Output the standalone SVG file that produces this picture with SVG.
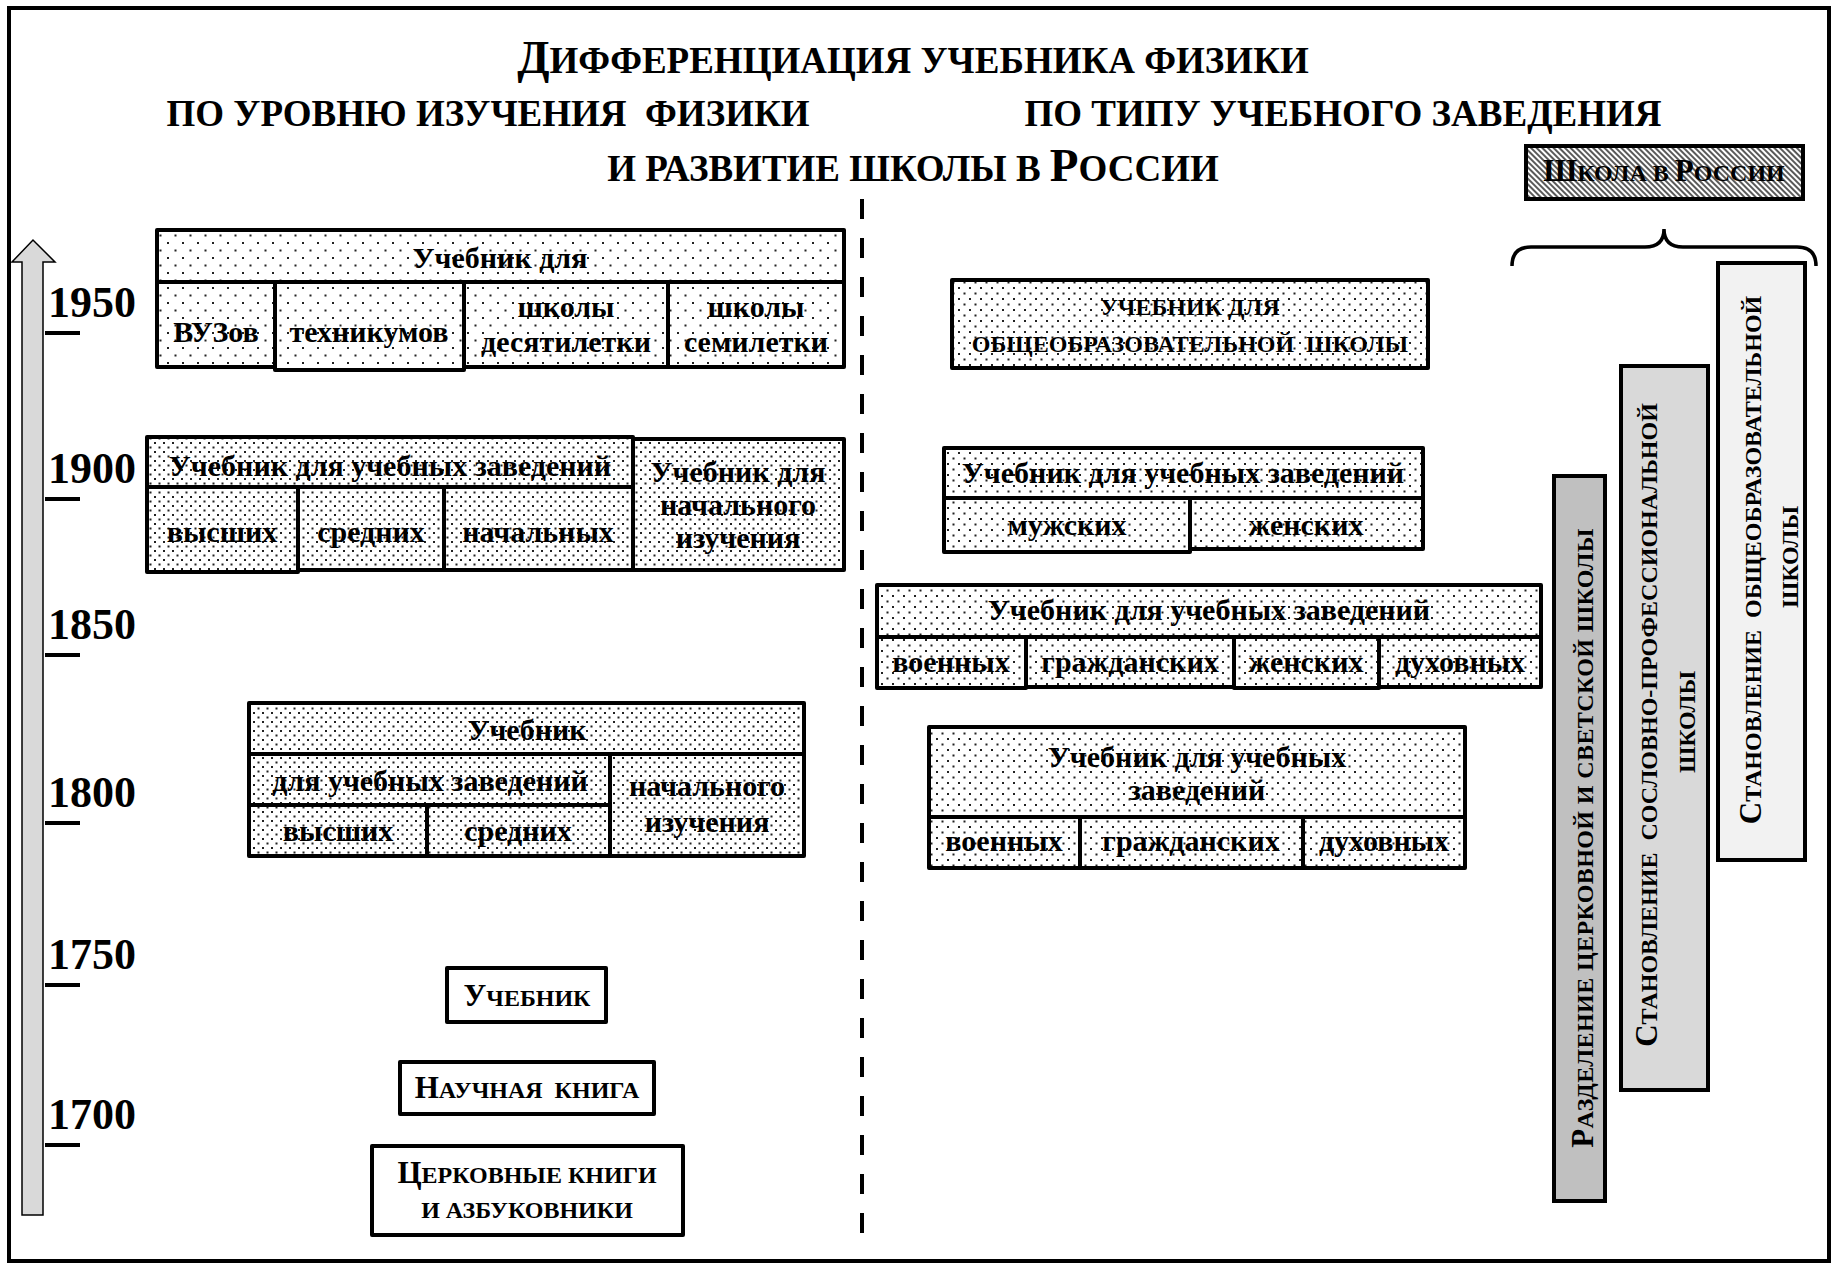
<svg xmlns="http://www.w3.org/2000/svg" width="1832" height="1264" viewBox="0 0 1832 1264">
<defs>
<pattern id="dotsA" width="15" height="15" patternUnits="userSpaceOnUse">
<rect width="15" height="15" fill="#fff"/>
<rect x="2" y="2" width="2" height="2" fill="#222"/>
<rect x="9.5" y="9.5" width="2" height="2" fill="#222"/>
</pattern>
<pattern id="dotsB" width="9" height="9" patternUnits="userSpaceOnUse">
<rect width="9" height="9" fill="#fff"/>
<rect x="1" y="1" width="2" height="2" fill="#222"/>
<rect x="5.5" y="5.5" width="2" height="2" fill="#222"/>
</pattern>
<pattern id="dotsC" width="11" height="11" patternUnits="userSpaceOnUse">
<rect width="11" height="11" fill="#fff"/>
<rect x="1" y="1" width="2" height="2" fill="#222"/>
<rect x="6.5" y="6.5" width="2" height="2" fill="#222"/>
</pattern>
<pattern id="hatch" width="4" height="4" patternUnits="userSpaceOnUse" patternTransform="rotate(45)">
<rect width="4" height="4" fill="#fff"/>
<line x1="0" y1="2" x2="4" y2="2" stroke="#000" stroke-width="1.3"/>
</pattern>
<style>
.frame{fill:#fff;stroke:#000;stroke-width:4}
.b{fill:#fff;stroke:#000;stroke-width:4;stroke-linejoin:round}
.pa{fill:url(#dotsA);stroke:#000;stroke-width:4;stroke-linejoin:round}
.pb{fill:url(#dotsB);stroke:#000;stroke-width:4;stroke-linejoin:round}
.pc{fill:url(#dotsC);stroke:#000;stroke-width:4;stroke-linejoin:round}
.t{font-family:"Liberation Serif","Times New Roman",serif;font-weight:bold;font-size:30px;text-anchor:middle;fill:#000}
.sc{font-size:24px}
.big{font-size:31px}
.h{font-size:37px}
.hb{font-size:47px}
.yr{font-family:"Liberation Serif","Times New Roman",serif;font-weight:bold;font-size:44px;fill:#000}
.tick{stroke:#000;stroke-width:4}
</style>
</defs>

<rect class="frame" x="9" y="8" width="1820" height="1253"/>

<g id="title">
<text class="t h" x="913" y="73"><tspan class="hb">Д</tspan>ИФФЕРЕНЦИАЦИЯ УЧЕБНИКА ФИЗИКИ</text>
<text class="t" style="font-size:37px" x="488" y="126" xml:space="preserve">ПО УРОВНЮ ИЗУЧЕНИЯ  ФИЗИКИ</text>
<text class="t" style="font-size:37px" x="1343" y="126">ПО ТИПУ УЧЕБНОГО ЗАВЕДЕНИЯ</text>
<text class="t h" x="913" y="181">И РАЗВИТИЕ ШКОЛЫ В <tspan class="hb">Р</tspan>ОССИИ</text>
</g>

<g id="timeline">
<polygon points="22,1215 22,262 12,262 33,240 55,262 43,262 43,1215" fill="#d9d9d9" stroke="#000" stroke-width="1.5"/>
<text class="yr" x="48" y="317">1950</text>
<line class="tick" x1="45" y1="333" x2="80" y2="333"/>
<text class="yr" x="48" y="483">1900</text>
<line class="tick" x1="45" y1="499" x2="80" y2="499"/>
<text class="yr" x="48" y="639">1850</text>
<line class="tick" x1="45" y1="655" x2="80" y2="655"/>
<text class="yr" x="48" y="807">1800</text>
<line class="tick" x1="45" y1="823" x2="80" y2="823"/>
<text class="yr" x="48" y="969">1750</text>
<line class="tick" x1="45" y1="985" x2="80" y2="985"/>
<text class="yr" x="48" y="1129">1700</text>
<line class="tick" x1="45" y1="1145" x2="80" y2="1145"/>
</g>

<g id="connectors">
<line x1="862" y1="199" x2="862" y2="1241" stroke="#000" stroke-width="4" stroke-dasharray="20 19"/>
<path d="M1512,266 Q1512,247 1531,247 L1645,247 Q1664,247 1664,229 Q1664,247 1683,247 L1797,247 Q1816,247 1816,266" fill="none" stroke="#000" stroke-width="3.5"/>
</g>

<g id="node-1950-left">
<rect class="pa" x="157" y="230" width="687" height="52"/>
<rect class="pa" x="157" y="282" width="118" height="85"/>
<rect class="pa" x="275" y="282" width="189" height="88"/>
<rect class="pa" x="464" y="282" width="204" height="85"/>
<rect class="pa" x="668" y="282" width="176" height="85"/>
<text class="t" x="500" y="268">Учебник для</text>
<text class="t" x="216" y="342">ВУЗов</text>
<text class="t" x="369" y="342">техникумов</text>
<text class="t" x="566" y="317">школы</text>
<text class="t" x="566" y="352">десятилетки</text>
<text class="t" x="756" y="317">школы</text>
<text class="t" x="756" y="352">семилетки</text>
</g>

<g id="node-1900-left">
<rect class="pb" x="147" y="437" width="486" height="50"/>
<rect class="pb" x="147" y="487" width="151" height="85"/>
<rect class="pb" x="298" y="487" width="146" height="83"/>
<rect class="pb" x="444" y="487" width="189" height="83"/>
<rect class="pb" x="633" y="439" width="211" height="131"/>
<text class="t" x="390" y="476">Учебник для учебных заведений</text>
<text class="t" x="222" y="542">высших</text>
<text class="t" x="371" y="542">средних</text>
<text class="t" x="538" y="542">начальных</text>
<text class="t" x="738" y="482">Учебник для</text>
<text class="t" x="738" y="515">начального</text>
<text class="t" x="738" y="548">изучения</text>
</g>

<g id="node-1800-left">
<rect class="pb" x="249" y="703" width="555" height="51"/>
<rect class="pb" x="249" y="754" width="361" height="51"/>
<rect class="pb" x="249" y="805" width="178" height="51"/>
<rect class="pb" x="427" y="805" width="183" height="51"/>
<rect class="pb" x="610" y="754" width="194" height="102"/>
<text class="t" x="527" y="740">Учебник</text>
<text class="t" x="430" y="791">для учебных заведений</text>
<text class="t" x="338" y="841">высших</text>
<text class="t" x="518" y="841">средних</text>
<text class="t" x="707" y="796">начального</text>
<text class="t" x="707" y="832">изучения</text>
</g>

<g id="node-uchebnik">
<rect class="b" x="447" y="968" width="159" height="54"/>
<text class="t sc" x="527" y="1006"><tspan class="big">У</tspan>ЧЕБНИК</text>
</g>

<g id="node-nauchnaya">
<rect class="b" x="400" y="1062" width="254" height="52"/>
<text class="t sc" x="527" y="1098" xml:space="preserve"><tspan class="big">Н</tspan>АУЧНАЯ  КНИГА</text>
</g>

<g id="node-cerkovnye">
<rect class="b" x="372" y="1146" width="311" height="89"/>
<text class="t sc" x="527" y="1183"><tspan class="big">Ц</tspan>ЕРКОВНЫЕ КНИГИ</text>
<text class="t sc" x="527" y="1218">И АЗБУКОВНИКИ</text>
</g>

<g id="node-obshche">
<rect class="pc" x="952" y="280" width="476" height="88"/>
<text class="t sc" x="1190" y="315">УЧЕБНИК ДЛЯ</text>
<text class="t sc" x="1190" y="352" xml:space="preserve">ОБЩЕОБРАЗОВАТЕЛЬНОЙ  ШКОЛЫ</text>
</g>

<g id="node-1900-right">
<rect class="pc" x="944" y="448" width="479" height="50"/>
<rect class="pc" x="944" y="498" width="246" height="54"/>
<rect class="pc" x="1190" y="498" width="233" height="51"/>
<text class="t" x="1183" y="483">Учебник для учебных заведений</text>
<text class="t" x="1067" y="535">мужских</text>
<text class="t" x="1306" y="535">женских</text>
</g>

<g id="node-1850-right">
<rect class="pc" x="877" y="585" width="664" height="52"/>
<rect class="pc" x="877" y="637" width="149" height="51"/>
<rect class="pc" x="1026" y="637" width="208" height="50"/>
<rect class="pc" x="1234" y="637" width="145" height="51"/>
<rect class="pc" x="1379" y="637" width="162" height="50"/>
<text class="t" x="1209" y="620">Учебник для учебных заведений</text>
<text class="t" x="951" y="672">военных</text>
<text class="t" x="1130" y="672">гражданских</text>
<text class="t" x="1306" y="672">женских</text>
<text class="t" x="1460" y="672">духовных</text>
</g>

<g id="node-1800-right">
<rect class="pc" x="929" y="727" width="536" height="90"/>
<rect class="pc" x="929" y="817" width="151" height="51"/>
<rect class="pc" x="1080" y="817" width="223" height="51"/>
<rect class="pc" x="1303" y="817" width="162" height="51"/>
<text class="t" x="1197" y="767">Учебник для учебных</text>
<text class="t" x="1197" y="800">заведений</text>
<text class="t" x="1004" y="851">военных</text>
<text class="t" x="1191" y="851">гражданских</text>
<text class="t" x="1384" y="851">духовных</text>
</g>

<g id="node-shkola">
<rect x="1526" y="146" width="277" height="53" fill="url(#hatch)" stroke="#000" stroke-width="4"/>
<text class="t sc" x="1664" y="181"><tspan class="big">Ш</tspan>КОЛА В <tspan class="big">Р</tspan>ОССИИ</text>
</g>

<g id="node-bar1">
<rect x="1554" y="476" width="51" height="725" fill="#c0c0c0" stroke="#000" stroke-width="4"/>
<text class="t sc" style="letter-spacing:0.4px" transform="translate(1593,838) rotate(-90)"><tspan class="big">Р</tspan>АЗДЕЛЕНИЕ ЦЕРКОВНОЙ И СВЕТСКОЙ ШКОЛЫ</text>
</g>

<g id="node-bar2">
<rect x="1621" y="366" width="87" height="724" fill="#d9d9d9" stroke="#000" stroke-width="4"/>
<text class="t sc" transform="translate(1657,725) rotate(-90)" xml:space="preserve"><tspan class="big">С</tspan>ТАНОВЛЕНИЕ  СОСЛОВНО-ПРОФЕССИОНАЛЬНОЙ</text>
<text class="t sc" transform="translate(1695,722) rotate(-90)">ШКОЛЫ</text>
</g>

<g id="node-bar3">
<rect x="1718" y="263" width="87" height="597" fill="#f2f2f2" stroke="#000" stroke-width="4"/>
<text class="t sc" transform="translate(1761,560) rotate(-90)" xml:space="preserve"><tspan class="big">С</tspan>ТАНОВЛЕНИЕ  ОБЩЕОБРАЗОВАТЕЛЬНОЙ</text>
<text class="t sc" transform="translate(1798,557) rotate(-90)">ШКОЛЫ</text>
</g>
</svg>
